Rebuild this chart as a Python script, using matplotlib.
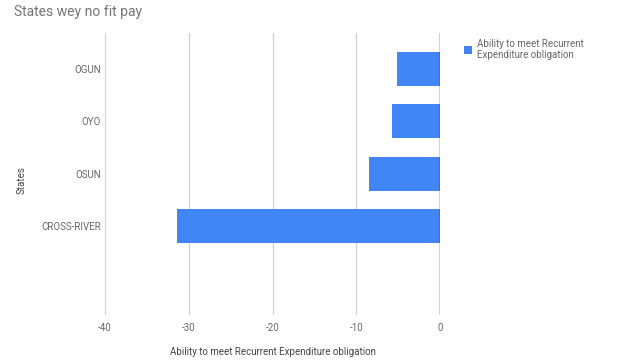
import matplotlib
matplotlib.use("Agg")
import matplotlib.pyplot as plt

states = ["OGUN", "OYO", "OSUN", "CROSS-RIVER"]
values = [-5.1, -5.7, -8.5, -31.4]
xticks = [-40, -30, -20, -10, 0]
series_name = "Ability to meet Recurrent\nExpenditure obligation"
xlabel = "Ability to meet Recurrent Expenditure obligation"

plt.rcParams['font.family'] = ['Roboto', 'DejaVu Sans']

fig = plt.figure(figsize=(6.4, 3.6), dpi=100)
ax = fig.add_axes([105/640, 1-315/360, (440-105)/640, (315-33)/360])

pos = list(range(len(states)))
ax.barh(pos, values, height=0.65, color="#4285F4", zorder=3, label=series_name)
ax.set_ylim(3 + 1.70, -0.69)
ax.set_xlim(-40, 0)
ax.set_xticks(xticks)
ax.set_xticklabels([str(t) for t in xticks])
ax.set_yticks(pos)
ax.set_yticklabels(states)
ax.tick_params(axis='both', length=0, labelsize=7, colors="#666666")
ax.tick_params(axis='x', pad=6)
ax.tick_params(axis='y', pad=3)
for s in ax.spines.values():
    s.set_visible(False)
ax.grid(axis='x', color="#d0d0d0", linewidth=0.9, zorder=0)
ax.axvline(0, color="#333333", linewidth=1.0, zorder=4)
ax.set_xlabel(xlabel, fontsize=7, color="#444444", labelpad=10)
ax.yaxis.set_label_coords(22/640, 185/360, transform=fig.transFigure)
ax.set_ylabel("States", fontsize=7, color="#444444", va="center")

fig.text(14/640, 1-12/360, "States wey no fit pay", fontsize=10, color="#757575", va="center", ha="left")

leg = ax.legend(loc="upper left", bbox_to_anchor=(455/640, 1-30/360), bbox_transform=fig.transFigure,
                frameon=False, fontsize=7, handlelength=0.8, handleheight=0.8, handletextpad=0.6,
                labelcolor="#666666")

fig.savefig("out.png", dpi=100)
